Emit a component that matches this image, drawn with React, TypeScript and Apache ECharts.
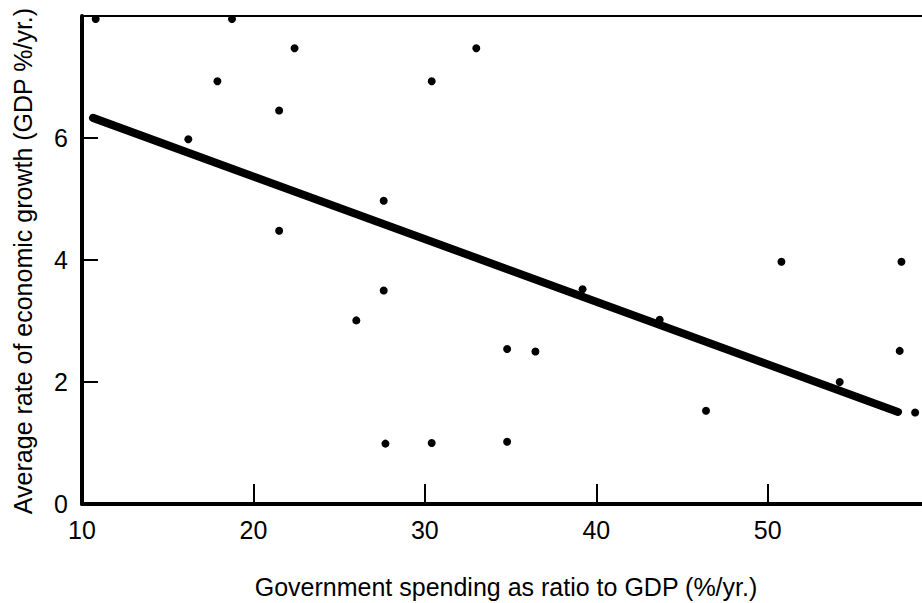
import React, { useEffect, useRef } from "react";
import * as echarts from "echarts";

// Government spending (% of GDP) vs average growth (GDP %/yr.)
const spendingX = [10.8, 18.75, 22.4, 17.9, 21.5, 16.2, 30.4, 33.0, 27.6, 21.5, 27.6, 26.0, 34.8, 36.45, 39.2, 43.7, 50.8, 57.8, 57.7, 54.2, 46.4, 58.6, 34.8, 27.7, 30.4];
const growthY = [7.95, 7.95, 7.47, 6.93, 6.45, 5.98, 6.93, 7.47, 4.97, 4.48, 3.5, 3.01, 2.54, 2.5, 3.52, 3.02, 3.97, 3.97, 2.51, 2.0, 1.53, 1.5, 1.02, 0.99, 1.0];

// Fitted trend line end points
const trendX = [10.64, 57.6];
const trendY = [6.33, 1.51];

const xTickValues = [10, 20, 30, 40, 50];
const yTickValues = [0, 2, 4, 6];

const xTitle = "Government spending as ratio to GDP (%/yr.)";
const yTitle = "Average rate of economic growth (GDP %/yr.)";

const FONT = '"Liberation Sans", Arial, Helvetica, sans-serif';

export default function App() {
  const ref = useRef<HTMLDivElement>(null);
  useEffect(() => {
    if (!ref.current) return;
    const chart = echarts.init(ref.current, undefined, { renderer: "svg" });
    const points = spendingX.map((x, i) => [x, growthY[i]]);
    const trend = trendX.map((x, i) => [x, trendY[i]]);
    chart.setOption({
      animation: false,
      backgroundColor: "#ffffff",
      grid: { left: 82, right: 0, top: 16, bottom: 99, containLabel: false },
      xAxis: [
        {
          type: "value",
          min: 10,
          max: 59,
          interval: 10,
          splitLine: { show: false },
          axisLine: { show: true, lineStyle: { color: "#000", width: 4 } },
          axisTick: {
            show: true,
            inside: true,
            length: 20,
            customValues: xTickValues,
            lineStyle: { color: "#000", width: 2 },
          },
          axisLabel: {
            customValues: xTickValues,
            color: "#000",
            fontSize: 25,
            fontFamily: FONT,
            margin: 13,
          },
        },
        {
          type: "value",
          position: "top",
          min: 10,
          max: 59,
          splitLine: { show: false },
          axisLine: { show: true, lineStyle: { color: "#000", width: 2 } },
          axisTick: { show: false },
          axisLabel: { show: false },
        },
      ],
      yAxis: {
        type: "value",
        min: 0,
        max: 8,
        interval: 2,
        splitLine: { show: false },
        axisLine: { show: true, lineStyle: { color: "#000", width: 4 } },
        axisTick: {
          show: true,
          inside: true,
          length: 16,
          customValues: yTickValues,
          lineStyle: { color: "#000", width: 2 },
        },
        axisLabel: {
          customValues: yTickValues,
          color: "#000",
          fontSize: 25,
          fontFamily: FONT,
          margin: 14,
        },
      },
      series: [
        {
          type: "line",
          data: trend,
          xAxisIndex: 0,
          symbol: "none",
          lineStyle: { color: "#000", width: 8, cap: "round" },
          z: 2,
        },
        {
          type: "scatter",
          data: points,
          xAxisIndex: 0,
          symbol: "circle",
          symbolSize: 8,
          itemStyle: { color: "#000", opacity: 1 },
          z: 3,
        },
      ],
      graphic: [
        {
          type: "text",
          x: 506,
          y: 587,
          style: {
            text: xTitle,
            font: `25px ${FONT}`,
            fill: "#000",
            align: "center",
            verticalAlign: "middle",
          },
        },
        {
          type: "text",
          x: 23,
          y: 261,
          rotation: Math.PI / 2,
          style: {
            text: yTitle,
            font: `25px ${FONT}`,
            fill: "#000",
            align: "center",
            verticalAlign: "middle",
          },
        },
      ],
    });
    return () => chart.dispose();
  }, []);
  return (
    <div
      ref={ref}
      style={{ position: "fixed", left: 0, top: 0, width: 922, height: 603 }}
    />
  );
}
